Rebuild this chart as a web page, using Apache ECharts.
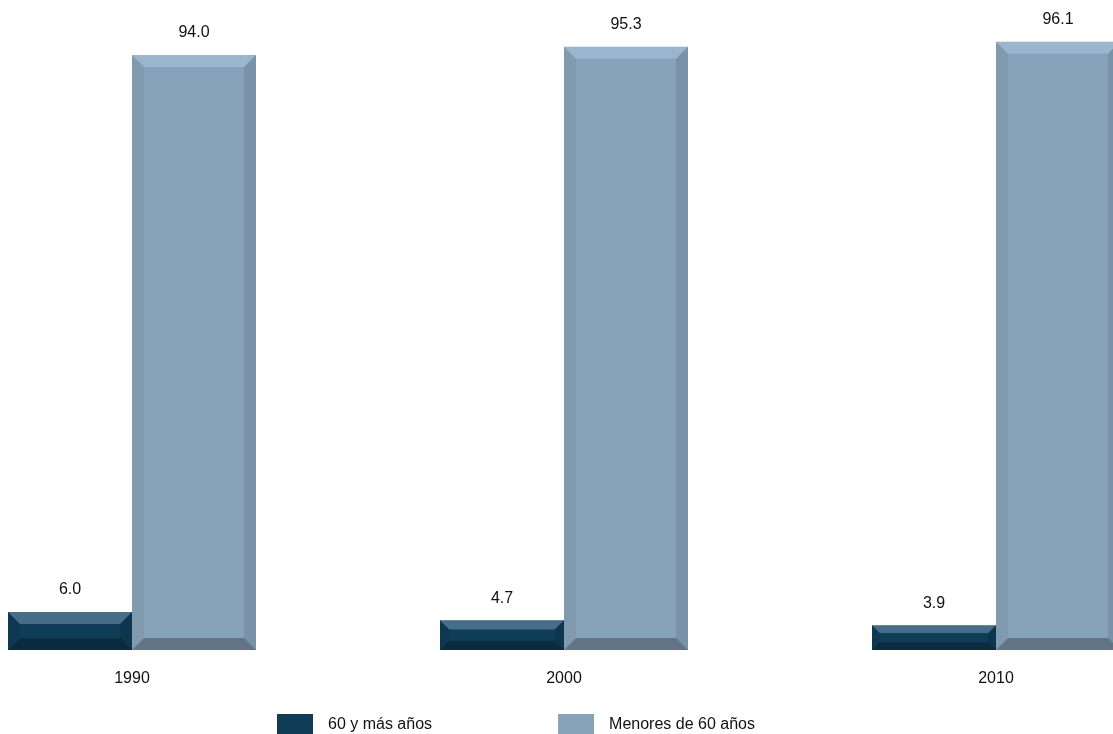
<!DOCTYPE html>
<html>
<head>
<meta charset="utf-8">
<script src="https://cdn.jsdelivr.net/npm/echarts@6/dist/echarts.min.js"></script>
<style>html,body{margin:0;padding:0;background:#fff;}#c{width:1113px;height:734px;}</style>
</head>
<body>
<div id="c"></div>
<script>
var categories = ['1990', '2000', '2010'];
var seriesNames = ['60 y más años', 'Menores de 60 años'];
var mayores = [6.0, 4.7, 3.9];
var menores = [94.0, 95.3, 96.1];

var DARK = '#0f3c56';
var LIGHT = '#87a3ba';
var BAR_W = 124;

function bevel(sideSign) {
  return function (params, api) {
    var idx = api.value(0);
    var val = api.value(1);
    var top = api.coord([idx, val]);
    var base = api.coord([idx, 0]);
    var w = BAR_W;
    var cx = top[0] + sideSign * w / 2;
    var x0 = cx - w / 2, x1 = cx + w / 2;
    var y0 = top[1], y1 = base[1];
    var h = y1 - y0;
    var b = Math.min(12, h / 3.2);
    return {
      type: 'group',
      children: [
        {type: 'polygon', shape: {points: [[x0, y0], [x1, y0], [x1 - b, y0 + b], [x0 + b, y0 + b]]},
          style: {fill: 'rgba(200,230,255,0.30)'}},
        {type: 'polygon', shape: {points: [[x0, y1], [x1, y1], [x1 - b, y1 - b], [x0 + b, y1 - b]]},
          style: {fill: 'rgba(0,0,0,0.28)'}},
        {type: 'polygon', shape: {points: [[x0, y0], [x0 + b, y0 + b], [x0 + b, y1 - b], [x0, y1]]},
          style: {fill: 'rgba(0,0,0,0.05)'}},
        {type: 'polygon', shape: {points: [[x1, y0], [x1 - b, y0 + b], [x1 - b, y1 - b], [x1, y1]]},
          style: {fill: 'rgba(0,0,0,0.10)'}}
      ]
    };
  };
}

function pairs(arr) { return arr.map(function (v, i) { return [i, v]; }); }

var chart = echarts.init(document.getElementById('c'), null, {renderer: 'canvas'});
chart.setOption({
  animation: false,
  backgroundColor: '#ffffff',
  textStyle: {fontFamily: 'Liberation Sans, Arial, sans-serif'},
  grid: {left: 132, right: 117, top: 17, bottom: 84, containLabel: false},
  xAxis: {
    type: 'category',
    data: categories,
    boundaryGap: false,
    axisLine: {show: false},
    axisTick: {show: false},
    splitLine: {show: false},
    axisLabel: {color: '#111', fontSize: 16, margin: 21}
  },
  yAxis: {
    type: 'value', min: 0, max: 100,
    show: false,
    splitLine: {show: false}
  },
  legend: {
    data: seriesNames,
    left: 272, top: 709,
    itemWidth: 36, itemHeight: 22, itemGap: 126,
    icon: 'rect',
    textStyle: {fontSize: 16, color: '#111', padding: [0, 0, 0, 10]}
  },
  series: [
    {
      name: seriesNames[0], type: 'bar', data: mayores,
      barWidth: BAR_W, barGap: '0%', clip: false,
      itemStyle: {color: DARK},
      label: {show: true, position: 'top', distance: 14, fontSize: 16, color: '#111',
        formatter: function (p) { return p.value.toFixed(1); }}
    },
    {
      name: seriesNames[1], type: 'bar', data: menores,
      barWidth: BAR_W, barGap: '0%', clip: false,
      itemStyle: {color: LIGHT},
      label: {show: true, position: 'top', distance: 14, fontSize: 16, color: '#111',
        formatter: function (p) { return p.value.toFixed(1); }}
    },
    {
      name: 'bevel0', type: 'custom', data: pairs(mayores), renderItem: bevel(-1),
      silent: true, clip: false, z: 3, encode: {x: 0, y: 1}
    },
    {
      name: 'bevel1', type: 'custom', data: pairs(menores), renderItem: bevel(1),
      silent: true, clip: false, z: 3, encode: {x: 0, y: 1}
    }
  ]
});
</script>
</body>
</html>
